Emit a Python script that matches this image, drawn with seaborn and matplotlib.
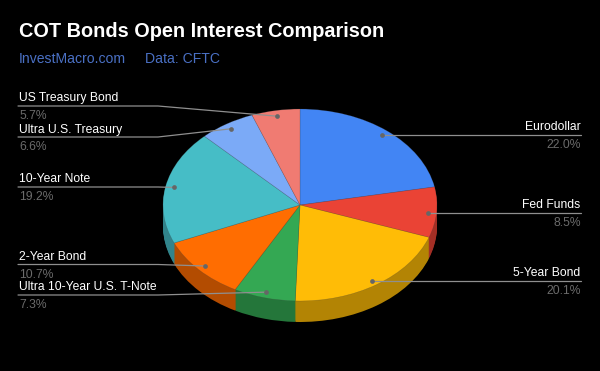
import numpy as np
import matplotlib
matplotlib.use("Agg")
import matplotlib.pyplot as plt
import seaborn as sns

categories = ["Eurodollar", "Fed Funds", "5-Year Bond", "Ultra 10-Year U.S. T-Note",
              "2-Year Bond", "10-Year Note", "Ultra U.S. Treasury", "US Treasury Bond"]
shares = [22.0, 8.5, 20.1, 7.3, 10.7, 19.2, 6.6, 5.7]
hex_colors = ["#4285F4", "#EA4335", "#FFBC06", "#34A853", "#FF6D01", "#46BDC6", "#7BAAF7", "#F07B72"]
title = "COT Bonds Open Interest Comparison"
subtitle = ["InvestMacro.com", "Data: CFTC"]

# label layout: (side, baseline of leader in px)
leader_y = [135, 212.5, 280.5, 295, 264.5, 187, 137, 106]
leader_side = ["R", "R", "R", "L", "L", "L", "L", "L"]

sns.set_theme(style="dark", rc={"figure.facecolor": "black", "axes.facecolor": "black"})
FONT = "Liberation Sans"
plt.rcParams["font.family"] = [FONT, "DejaVu Sans"]

W, H = 600, 371
cx, cy, rx, ry, depth = 300, 205, 137, 96, 21
palette = sns.color_palette(hex_colors)
dark = [tuple(c * 0.7 for c in col) for col in palette]

fig = plt.figure(figsize=(W / 100, H / 100), dpi=100, facecolor="black")
ax = fig.add_axes([0, 0, 1, 1])
for d in range(depth, 0, -1):
    ax.pie(shares, colors=dark, startangle=90, counterclock=False, radius=1,
           center=(0, -d / ry), wedgeprops={"linewidth": 0.6, "edgecolor": "none"})
ax.pie(shares, colors=palette, startangle=90, counterclock=False, radius=1,
       center=(0, 0), wedgeprops={"linewidth": 0.4, "edgecolor": (0.25, 0.25, 0.25, 0.35)})
ax.set_aspect("auto")
ax.set_xlim((0 - cx) / rx, (W - cx) / rx)
ax.set_ylim((cy - H) / ry, cy / ry)
ax.axis("off")

ov = fig.add_axes([0, 0, 1, 1], facecolor="none")
ov.set_xlim(0, W)
ov.set_ylim(H, 0)
ov.axis("off")

total = sum(shares)
cum = 0.0
for name, val, ly, side in zip(categories, shares, leader_y, leader_side):
    mid = (cum + val / 2) / total * 2 * np.pi
    cum += val
    dx = cx + 0.94 * rx * np.sin(mid)
    dy = cy - 0.94 * ry * np.cos(mid)
    if side == "L":
        xs, ys = [18, 158, dx], [ly, ly, dy]
        tx, ha = 19, "left"
    else:
        dy = ly
        xs, ys = [581, dx], [ly, ly]
        tx, ha = 580.5, "right"
    ov.plot(xs, ys, color="#8f8f8f", lw=0.9, solid_joinstyle="round", zorder=3)
    ov.plot([dx], [dy], "o", ms=3.4, color="#666666", mew=0, zorder=4)
    ov.text(tx, ly - 7.5, name, color="#ffffff", fontsize=8.7, ha=ha, va="center", fontfamily=FONT)
    ov.text(tx, ly + 10, f"{val:.1f}%", color="#6b6b6b", fontsize=8.7, ha=ha, va="center",
            fontfamily=FONT)

ov.text(19, 31.5, title, color="#ffffff", fontsize=14.3, fontweight="bold", ha="left",
        va="center", fontfamily=FONT)
ov.text(19, 59, subtitle[0], color="#4a70c4", fontsize=10.1, ha="left", va="center", fontfamily=FONT)
ov.text(145, 59, subtitle[1], color="#4a70c4", fontsize=10.1, ha="left", va="center", fontfamily=FONT)

fig.savefig("out.png", dpi=100, facecolor="black")
